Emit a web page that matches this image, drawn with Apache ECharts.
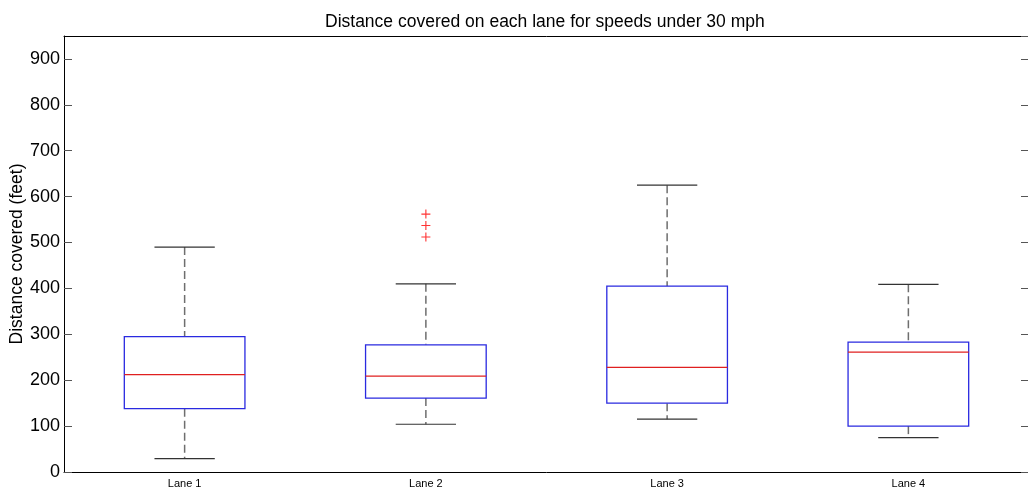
<!DOCTYPE html>
<html>
<head>
<meta charset="utf-8">
<title>Distance covered on each lane</title>
<script src="https://cdn.jsdelivr.net/npm/echarts@6/dist/echarts.min.js"></script>
<style>
  html, body { margin: 0; padding: 0; background: #fff; }
  #chart { width: 1028px; height: 490px; }
</style>
</head>
<body>
<div id="chart"></div>
<script>
// Box plot values (feet)
const lanes = ['Lane 1', 'Lane 2', 'Lane 3', 'Lane 4'];
const whiskerLow = [29, 104, 115, 75];
const quartile1 = [138, 161, 150, 100];
const medians = [212, 209, 228, 261];
const quartile3 = [295, 277, 405, 283];
const whiskerHigh = [490, 410, 625, 409];

// Outliers (all on Lane 2)
const outlierLane = 'Lane 2';
const outlierValues = [562, 537, 512];

const yMin = 0;
const yMax = 950;
const yStep = 100;

const FONT = 'Liberation Sans, Arial, sans-serif';

const boxData = lanes.map((name, i) => [
    i, whiskerLow[i], quartile1[i], medians[i], quartile3[i], whiskerHigh[i]
]);

/**
 * Draw one MATLAB style box: blue box, red median, dashed whiskers, black caps
 */
function renderBox(params, api) {
    const x = api.value(0);
    const lo = api.coord([x, api.value(1)]);
    const q1 = api.coord([x, api.value(2)]);
    const med = api.coord([x, api.value(3)]);
    const q3 = api.coord([x, api.value(4)]);
    const hi = api.coord([x, api.value(5)]);
    const band = api.size([1, 0])[0];
    const half = band / 4;
    const cap = band / 8;
    const cx = lo[0];

    const whiskerStyle = { stroke: '#6e6e6e', lineWidth: 1.5, lineDash: [8, 4] };
    const capStyle = { stroke: '#333', lineWidth: 1.2 };

    return {
        type: 'group',
        children: [
            { type: 'line', shape: { x1: cx, y1: hi[1], x2: cx, y2: q3[1] }, style: whiskerStyle },
            { type: 'line', shape: { x1: cx, y1: q1[1], x2: cx, y2: lo[1] }, style: whiskerStyle },
            { type: 'line', shape: { x1: cx - cap, y1: hi[1], x2: cx + cap, y2: hi[1] }, style: capStyle },
            { type: 'line', shape: { x1: cx - cap, y1: lo[1], x2: cx + cap, y2: lo[1] }, style: capStyle },
            {
                type: 'rect',
                shape: { x: cx - half, y: q3[1], width: half * 2, height: q1[1] - q3[1] },
                style: { fill: '#fff', stroke: '#2a2ae0', lineWidth: 1.3 }
            },
            {
                type: 'line',
                shape: { x1: cx - half, y1: med[1], x2: cx + half, y2: med[1] },
                style: { stroke: '#e02020', lineWidth: 1.2 }
            }
        ]
    };
}

const chart = echarts.init(document.getElementById('chart'), null, { renderer: 'canvas' });

const yAxisBase = {
    type: 'value',
    min: yMin,
    max: yMax,
    interval: yStep,
    splitLine: { show: false },
    axisLine: { show: true, lineStyle: { color: '#000', width: 1 } },
    axisTick: { show: true, inside: true, length: 8, lineStyle: { color: '#555', width: 1 } }
};

chart.setOption({
    backgroundColor: '#fff',
    animation: false,
    title: {
        text: 'Distance covered on each lane for speeds under 30 mph',
        left: 320,
        top: 8,
        textStyle: { fontFamily: FONT, fontSize: 17.5, fontWeight: 'normal', color: '#000' }
    },
    grid: { left: 64, right: -1, top: 36, bottom: 18, containLabel: false, outerBoundsMode: 'none' },
    xAxis: [
        {
            type: 'category',
            data: lanes,
            position: 'bottom',
            axisLine: { show: true, onZero: false, lineStyle: { color: '#000', width: 1 } },
            axisTick: { show: false },
            axisLabel: { color: '#000', fontFamily: FONT, fontSize: 11, margin: 6 },
            splitLine: { show: false }
        },
        {
            type: 'category',
            data: lanes,
            position: 'top',
            axisLine: { show: true, onZero: false, lineStyle: { color: '#000', width: 1 } },
            axisTick: { show: false },
            axisLabel: { show: false }
        }
    ],
    yAxis: [
        Object.assign({}, yAxisBase, {
            position: 'left',
            name: 'Distance covered (feet)',
            nameLocation: 'middle',
            nameGap: 38,
            nameRotate: 90,
            nameMoveOverlap: false,
            nameTextStyle: { fontFamily: FONT, fontSize: 17.5, color: '#000' },
            axisLabel: { color: '#000', fontFamily: FONT, fontSize: 18, margin: 4, showMaxLabel: false }
        }),
        Object.assign({}, yAxisBase, {
            position: 'right',
            axisLabel: { show: false }
        })
    ],
    series: [
        {
            type: 'custom',
            xAxisIndex: 0,
            yAxisIndex: 0,
            renderItem: renderBox,
            encode: { x: 0, y: [1, 2, 3, 4, 5] },
            data: boxData
        },
        {
            type: 'scatter',
            xAxisIndex: 0,
            yAxisIndex: 0,
            symbol: 'path://M0,3.5H8V4.5H0Z M3.5,0H4.5V8H3.5Z',
            symbolSize: 9,
            itemStyle: { color: '#ff0000' },
            data: outlierValues.map(v => [outlierLane, v])
        }
    ]
});
</script>
</body>
</html>
